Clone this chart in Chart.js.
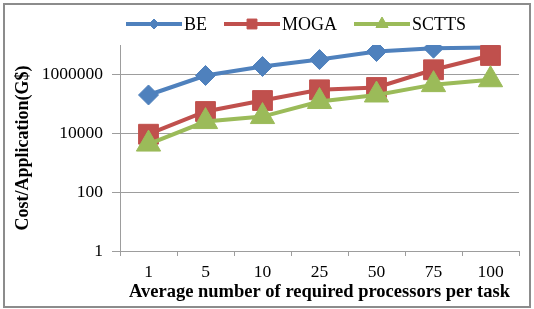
<!DOCTYPE html>
<html>
<head>
<meta charset="utf-8">
<script src="https://cdn.jsdelivr.net/npm/chart.js@4/dist/chart.umd.min.js"></script>
<style>
    body { margin: 0; background: #ffffff; }
    #wrap { width: 534px; height: 309px; }
</style>
</head>
<body>
<div id="wrap"><canvas id="costChart" width="534" height="309"></canvas></div>
<script>
// ===== Datos =====
const categories = ['1', '5', '10', '25', '50', '75', '100'];
const beCost = [200000, 920000, 1860000, 3200000, 6000000, 7800000, 8200000];
const mogaCost = [9300, 55000, 130000, 300000, 360000, 1440000, 4400000];
const scttsCost = [4300, 25000, 37000, 120000, 200000, 450000, 660000];
const yTicks = [1, 100, 10000, 1000000];

const gridGray = '#9d9d9d';
const serif = '"Liberation Serif", "Times New Roman", serif';

// Leyenda con linea y marcador (estilo Excel)
const lineLegend = {
    id: 'lineLegend',
    afterDraw(chart) {
        const ctx = chart.ctx;
        let x = 126;
        const y = 24;
        ctx.save();
        ctx.font = '18px ' + serif;
        ctx.textBaseline = 'middle';
        chart.data.datasets.forEach(ds => {
            ctx.strokeStyle = ds.borderColor;
            ctx.fillStyle = ds.borderColor;
            ctx.lineWidth = 4;
            ctx.beginPath();
            ctx.moveTo(x, y);
            ctx.lineTo(x + 56, y);
            ctx.stroke();
            ctx.lineWidth = 1;
            Chart.helpers.drawPoint(ctx, { pointStyle: ds.pointStyle, radius: ds.legendRadius, borderWidth: 1 }, x + 28, y);
            ctx.fillStyle = '#000000';
            ctx.fillText(ds.label, x + 58, y + 1);
            x += 58 + ctx.measureText(ds.label).width + 17;
        });
        ctx.restore();
    }
};

// Fondo blanco y marco gris
const frame = {
    id: 'frame',
    beforeDraw(chart) {
        const ctx = chart.ctx;
        ctx.save();
        ctx.fillStyle = '#ffffff';
        ctx.fillRect(0, 0, chart.width, chart.height);
        ctx.restore();
    },
    afterDraw(chart) {
        const ctx = chart.ctx;
        ctx.save();
        ctx.strokeStyle = '#8c8c8c';
        ctx.lineWidth = 2;
        ctx.strokeRect(4, 4, 526, 303);
        ctx.restore();
    }
};

const ctx = document.getElementById('costChart').getContext('2d');
new Chart(ctx, {
    type: 'line',
    data: {
        labels: categories,
        datasets: [{
            label: 'BE',
            data: beCost,
            borderColor: '#4F81BD',
            backgroundColor: '#4F81BD',
            pointStyle: 'rectRot',
            pointRadius: 10,
            legendRadius: 5,
            order: 3
        }, {
            label: 'MOGA',
            data: mogaCost,
            borderColor: '#C0504D',
            backgroundColor: '#C0504D',
            pointStyle: 'rect',
            pointRadius: 14,
            legendRadius: 7,
            order: 2
        }, {
            label: 'SCTTS',
            data: scttsCost,
            borderColor: '#9BBB59',
            backgroundColor: '#9BBB59',
            pointStyle: 'triangle',
            pointRadius: 14,
            legendRadius: 7,
            order: 1
        }]
    },
    options: {
        responsive: false,
        animation: false,
        elements: {
            line: { borderWidth: 4, tension: 0 },
            point: { borderWidth: 1, hoverRadius: 10 }
        },
        layout: {
            padding: { top: 45, right: 11, left: 0, bottom: 0 }
        },
        plugins: {
            legend: { display: false },
            tooltip: { enabled: false }
        },
        scales: {
            x: {
                offset: true,
                afterFit: scale => { scale.height = 58; },
                grid: {
                    offset: true,
                    drawOnChartArea: false,
                    color: gridGray,
                    tickLength: 5
                },
                border: { color: gridGray, width: 1 },
                ticks: {
                    color: '#000000',
                    padding: 6,
                    maxRotation: 0,
                    font: { family: serif, size: 17.5 }
                },
                title: {
                    display: true,
                    text: 'Average number of required processors per task',
                    color: '#000000',
                    padding: { top: 0, bottom: 6 },
                    font: { family: serif, size: 18.5, weight: 'bold' }
                }
            },
            y: {
                type: 'logarithmic',
                min: 1,
                max: 10000000,
                afterFit: scale => { scale.width = 120; },
                afterBuildTicks: scale => {
                    scale.ticks = yTicks.map(v => ({ value: v }));
                },
                grid: {
                    color: gridGray,
                    tickLength: 8
                },
                border: { color: gridGray, width: 1 },
                ticks: {
                    color: '#000000',
                    padding: 9,
                    font: { family: serif, size: 17.5 },
                    callback: value => String(value)
                },
                title: {
                    display: true,
                    text: 'Cost/Application(G$)',
                    color: '#000000',
                    padding: { top: 13, bottom: 0 },
                    font: { family: serif, size: 18, weight: 'bold' }
                }
            }
        }
    },
    plugins: [frame, lineLegend]
});
</script>
</body>
</html>
